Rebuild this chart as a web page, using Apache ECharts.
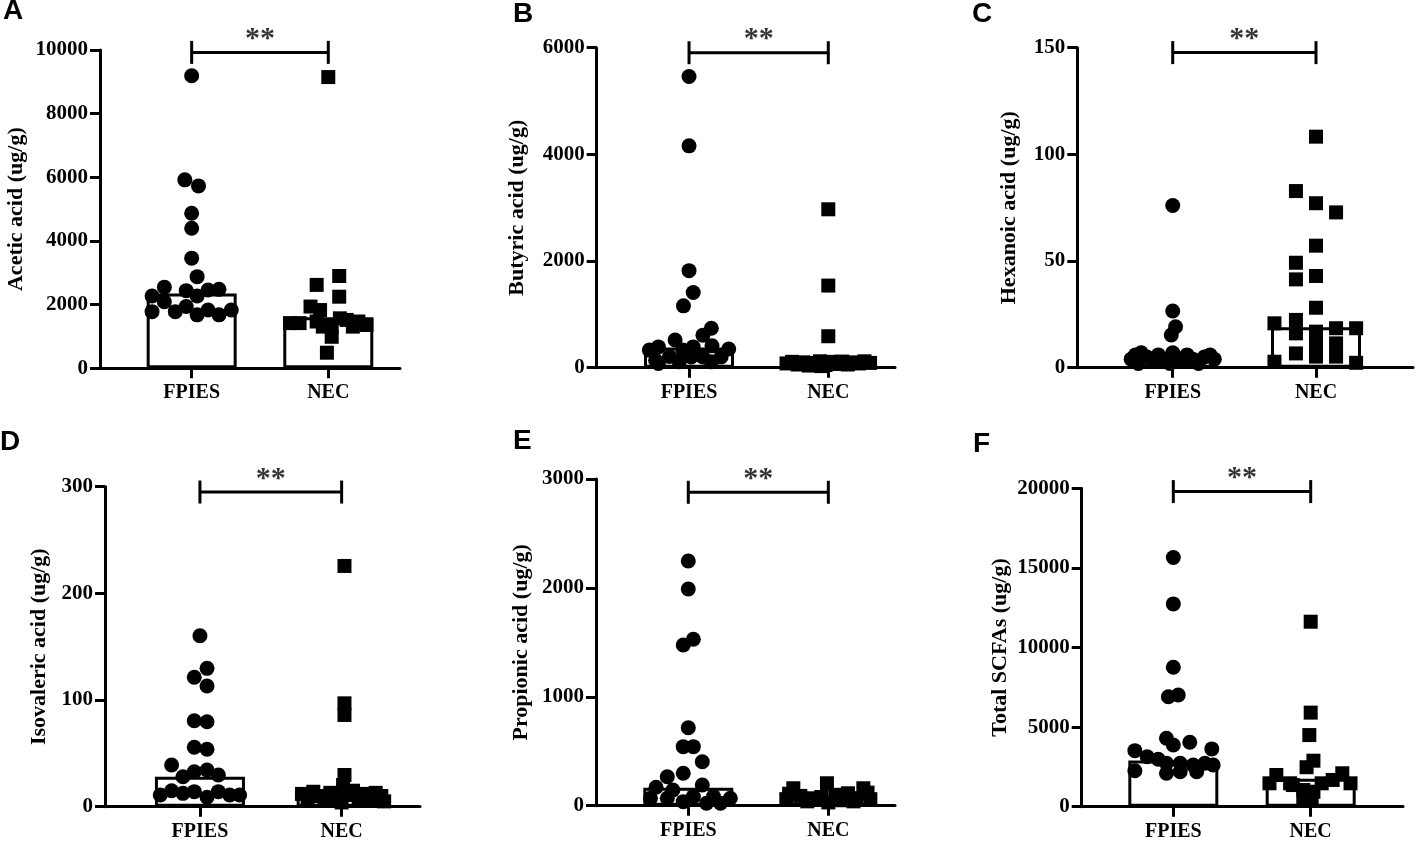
<!DOCTYPE html>
<html><head><meta charset="utf-8">
<script src="https://cdn.jsdelivr.net/npm/echarts@6/dist/echarts.min.js"></script>
<style>html,body{margin:0;padding:0;background:#fff}#c{width:1417px;height:844px}</style>
</head><body><div id="c"></div>
<script>
// ---------- DATA ----------
const groups = ['FPIES', 'NEC'];
const panelLetters = ['A', 'B', 'C', 'D', 'E', 'F'];
const yTitles = ['Acetic acid (ug/g)', 'Butyric acid (ug/g)', 'Hexanoic acid (ug/g)',
                 'Isovaleric acid (ug/g)', 'Propionic acid (ug/g)', 'Total SCFAs (ug/g)'];
const yMax  = [10000, 6000, 150, 300, 3000, 20000];
const yStep = [2000, 2000, 50, 100, 1000, 5000];
const medianFPIES = [2350, 380, 4, 28, 165, 2900];
const medianNEC   = [1600, 90, 19, 12, 75, 1750];
const bracketLevel = [9925, 5906, 147.7, 295, 2878, 19793];
const significance = ['**', '**', '**', '**', '**', '**'];

// values and horizontal jitter (offset from group centre, in group units)
const aceticFPIES  = [9190, 5920, 5730, 4870, 4400, 3460, 2880, 2550, 2270, 2440, 2270, 2460, 2480, 2090, 1780, 1780, 1940, 1680, 1830, 1680, 1830];
const aceticFPIESJ = [0, -0.05, 0.05, 0, 0, 0, 0.04, -0.2, -0.29, -0.04, 0.04, 0.12, 0.2, -0.2, -0.29, -0.12, -0.04, 0.04, 0.12, 0.2, 0.29];
const aceticNEC    = [9150, 2900, 2620, 2250, 1940, 1830, 1420, 1420, 1470, 1310, 990, 1520, 1470, 1360, 1310, 490, 1310, 1570];
const aceticNECJ   = [0, 0.08, -0.085, 0.08, -0.13, -0.06, -0.28, -0.21, -0.085, 0.025, 0.025, 0.135, 0.22, 0.28, 0.18, -0.01, -0.04, 0.085];

const butyricFPIES  = [5460, 4160, 1820, 1410, 1160, 740, 610, 520, 330, 390, 390, 410, 350, 330, 140, 210, 200, 200, 200, 110, 110, 80];
const butyricFPIESJ = [0, 0, 0, 0.03, -0.04, 0.16, 0.1, -0.1, -0.285, -0.22, 0.03, 0.165, 0.285, -0.045, -0.24, -0.14, 0.015, 0.1, 0.23, 0.16, -0.07, -0.22];
const butyricNEC    = [2970, 1540, 590, 80, 110, 60, 100, 40, 90, 120, 50, 110, 70, 115, 60, 100, 80, 120, 90, 30];
const butyricNECJ   = [0, 0, 0, -0.3, -0.26, -0.22, -0.18, -0.14, -0.1, -0.06, -0.02, 0.02, 0.06, 0.1, 0.14, 0.18, 0.22, 0.26, 0.3, -0.05];

const hexanoicFPIES  = [76, 26.6, 19.2, 15.3, 4, 6, 7, 5, 3, 6, 4, 2, 5, 3, 6, 4, 2, 5, 6, 4, 2, 7];
const hexanoicFPIESJ = [0, 0, 0.02, -0.01, -0.29, -0.26, -0.22, -0.18, -0.14, -0.1, -0.06, -0.02, 0.02, 0.06, 0.1, 0.14, 0.18, 0.22, 0.26, 0.29, -0.24, 0];
const hexanoicNEC    = [108.3, 82.8, 77.1, 72.8, 57.2, 49.2, 41.4, 43, 28.1, 20.8, 22.4, 16.1, 16.9, 18.5, 18.5, 6.7, 11.4, 11.4, 5.2, 5.2, 2.8, 2.3];
const hexanoicNECJ   = [0, -0.14, 0, 0.14, 0, -0.14, -0.14, 0, 0, -0.29, -0.14, -0.14, 0, 0.14, 0.28, -0.14, 0, 0.14, 0, 0.14, -0.29, 0.28];

const isovalericFPIES  = [160.3, 129.7, 121.3, 113.2, 80.6, 79.7, 55.7, 53.8, 39.1, 28.1, 32.8, 34.4, 29.7, 11, 15, 12.5, 14.1, 8.8, 14.1, 11, 11];
const isovalericFPIESJ = [0, 0.05, -0.04, 0.05, -0.04, 0.05, -0.04, 0.05, -0.2, -0.12, -0.04, 0.05, 0.13, -0.28, -0.2, -0.12, -0.04, 0.05, 0.13, 0.21, 0.28];
const isovalericNEC    = [225.7, 96.9, 86, 29.7, 20.3, 12, 8, 14, 10, 6, 13, 9, 4, 11, 15, 7, 12, 9, 13, 10, 5];
const isovalericNECJ   = [0.02, 0.02, 0.02, 0.02, 0.01, -0.28, -0.24, -0.2, -0.16, -0.12, -0.08, -0.04, 0, 0.04, 0.08, 0.12, 0.16, 0.2, 0.24, 0.28, 0.3];

const propionicFPIES  = [2247, 1990, 1476, 1528, 716, 542, 542, 404, 266, 298, 169, 144, 190, 68, 68, 37, 83, 22, 22, 68, 83];
const propionicFPIESJ = [0, 0, -0.036, 0.036, 0, -0.036, 0.036, 0.1, -0.15, -0.036, -0.23, -0.11, 0.1, -0.27, -0.15, -0.036, 0.036, 0.13, 0.23, 0.3, 0.18];
const propionicNEC    = [206, 160, 160, 114, 68, 60, 90, 40, 80, 30, 100, 50, 70, 60, 120, 110, 40];
const propionicNECJ   = [-0.01, -0.25, 0.25, 0.14, -0.11, -0.3, -0.2, -0.15, -0.05, 0, 0.05, 0.1, 0.2, 0.3, 0.28, -0.28, 0.18];

const totalFPIES  = [15650, 12740, 8760, 6910, 7020, 4300, 3880, 4050, 3630, 3520, 3140, 2980, 2730, 2730, 2620, 2730, 2620, 2260, 2100, 2200, 2200];
const totalFPIESJ = [0, 0, 0, -0.036, 0.036, -0.05, 0, 0.12, 0.28, -0.28, -0.19, -0.11, -0.05, 0.05, 0.145, 0.23, 0.29, -0.28, -0.05, 0.05, 0.17];
const totalNEC    = [11620, 5910, 4500, 2890, 2480, 1990, 2100, 1470, 1470, 1470, 1470, 1680, 1050, 940, 530, 530, 1360];
const totalNECJ   = [0, 0, -0.01, 0.02, -0.03, -0.25, 0.23, 0.29, -0.3, -0.15, 0.08, 0.16, -0.054, 0.02, -0.054, 0.007, -0.13];

const fpiesValues = [aceticFPIES, butyricFPIES, hexanoicFPIES, isovalericFPIES, propionicFPIES, totalFPIES];
const fpiesJitter = [aceticFPIESJ, butyricFPIESJ, hexanoicFPIESJ, isovalericFPIESJ, propionicFPIESJ, totalFPIESJ];
const necValues   = [aceticNEC, butyricNEC, hexanoicNEC, isovalericNEC, propionicNEC, totalNEC];
const necJitter   = [aceticNECJ, butyricNECJ, hexanoicNECJ, isovalericNECJ, propionicNECJ, totalNECJ];

// ---------- LAYOUT ----------
const layout = [
  {left: 100,    top: 50,    width: 300,   height: 318.3, xMin: 0.329, xMax: 2.525, gap: 73, lx: 3,   ly: -3},
  {left: 596.7,  top: 47.7,  width: 298.3, height: 320,   xMin: 0.337, xMax: 2.479, gap: 68, lx: 513, ly: 0},
  {left: 1077.3, top: 47.7,  width: 335.7, height: 320,   xMin: 0.334, xMax: 2.677, gap: 57, lx: 972, ly: 0},
  {left: 105,    top: 486.7, width: 315,   height: 320,   xMin: 0.330, xMax: 2.553, gap: 55, lx: 0,   ly: 428},
  {left: 596,    top: 479,   width: 299,   height: 326.7, xMin: 0.341, xMax: 2.476, gap: 64, lx: 513, ly: 427},
  {left: 1081.7, top: 488.3, width: 321.3, height: 318.4, xMin: 0.333, xMax: 2.672, gap: 70, lx: 973, ly: 430}
];

const serif = "'Liberation Serif', 'Times New Roman', serif";
const sans = "'Liberation Sans', Arial, sans-serif";
const axisStroke = {color: '#000', width: 3};

const grids = [], xAxes = [], yAxes = [], series = [], titles = [];
layout.forEach((L, i) => {
  grids.push({left: L.left, top: L.top, width: L.width, height: L.height, containLabel: false, outerBoundsMode: 'none'});
  xAxes.push({
    type: 'value', gridIndex: i, min: L.xMin, max: L.xMax,
    axisLine: {show: true, onZero: true, lineStyle: axisStroke},
    axisTick: {show: true, customValues: [1, 2], length: 10, lineStyle: axisStroke},
    axisLabel: {show: true, customValues: [1, 2], margin: 15,
      formatter: v => groups[Math.round(v) - 1] || '',
      color: '#000', fontFamily: serif, fontWeight: 'bold', fontSize: 20},
    splitLine: {show: false}
  });
  yAxes.push({
    type: 'value', gridIndex: i, min: 0, max: yMax[i], interval: yStep[i],
    name: yTitles[i], nameLocation: 'middle', nameGap: L.gap, nameRotate: 90,
    nameTextStyle: {color: '#000', fontFamily: serif, fontWeight: 'bold', fontSize: 22},
    axisLine: {show: true, lineStyle: axisStroke},
    axisTick: {show: true, length: 10, lineStyle: axisStroke},
    axisLabel: {color: '#000', fontFamily: serif, fontWeight: 'bold', fontSize: 21, margin: 12,
      formatter: v => String(v)},
    splitLine: {show: false}
  });
  series.push({
    type: 'bar', xAxisIndex: i, yAxisIndex: i, barWidth: 90, z: 1,
    data: [[1, medianFPIES[i]], [2, medianNEC[i]]],
    itemStyle: {color: '#fff', borderColor: '#000', borderWidth: 3}
  });
  series.push({
    type: 'scatter', xAxisIndex: i, yAxisIndex: i, symbol: 'circle', symbolSize: 15, z: 3,
    itemStyle: {color: '#000', opacity: 1},
    data: fpiesValues[i].map((v, k) => [1 + fpiesJitter[i][k], v])
  });
  series.push({
    type: 'scatter', xAxisIndex: i, yAxisIndex: i, symbol: 'rect', symbolSize: 14, z: 3,
    itemStyle: {color: '#000', opacity: 1},
    data: necValues[i].map((v, k) => [2 + necJitter[i][k], v])
  });
  series.push({
    type: 'line', xAxisIndex: i, yAxisIndex: i, z: 4,
    symbol: 'rect', symbolSize: [3, 23], showSymbol: true,
    lineStyle: {color: '#000', width: 3}, itemStyle: {color: '#000', opacity: 1},
    data: [[1, bracketLevel[i]], [2, bracketLevel[i]]]
  });
  series.push({
    type: 'scatter', xAxisIndex: i, yAxisIndex: i, symbolSize: 0, z: 5,
    label: {show: true, position: 'inside', offset: [0, -13], formatter: () => significance[i],
      color: '#000', fontFamily: serif, fontWeight: 'bold', fontSize: 30},
    data: [[1.5, bracketLevel[i]]]
  });
  titles.push({text: panelLetters[i], left: L.lx, top: L.ly, padding: 0,
    textStyle: {color: '#000', fontFamily: sans, fontWeight: 'bold', fontSize: 28}});
});

const chart = echarts.init(document.getElementById('c'), null, {renderer: 'canvas'});
chart.setOption({
  animation: false, backgroundColor: '#fff',
  title: titles, grid: grids, xAxis: xAxes, yAxis: yAxes, series: series
});
</script></body></html>
